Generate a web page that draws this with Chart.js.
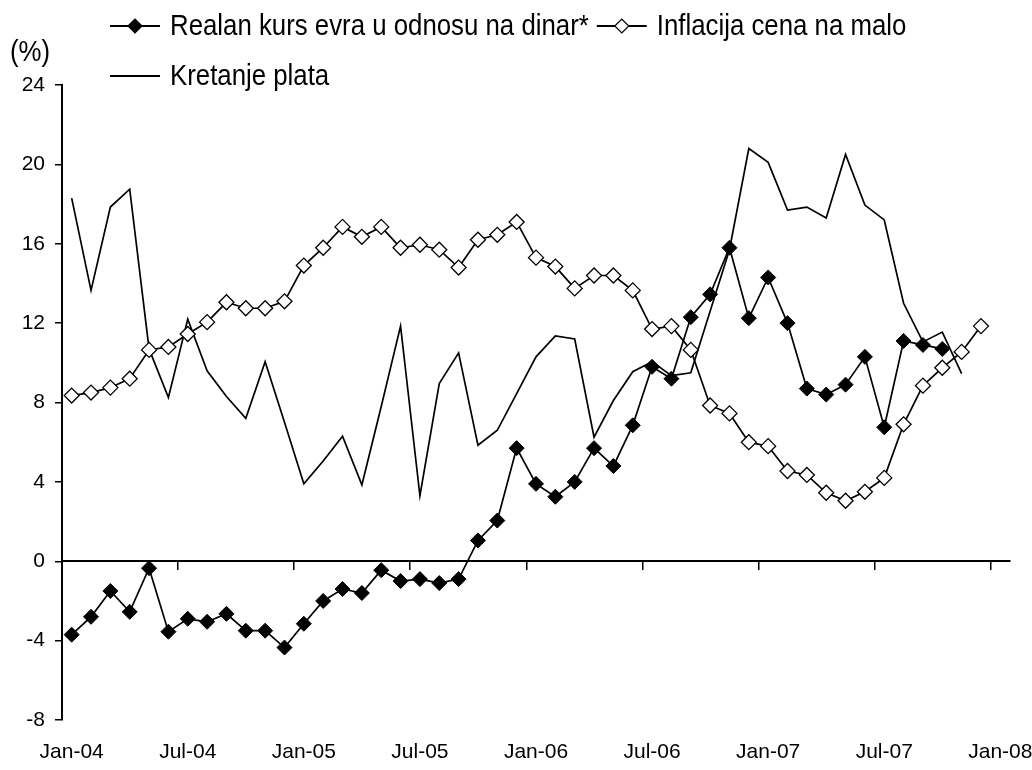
<!DOCTYPE html>
<html>
<head>
<meta charset="utf-8">
<script src="https://cdn.jsdelivr.net/npm/chart.js@4"></script>
<style>
  html, body { margin: 0; padding: 0; background: #fff; }
  #wrap { width: 1032px; height: 770px; position: relative; }
</style>
</head>
<body>
<div id="wrap"><canvas id="kursChart"></canvas></div>
<script>
// mesecne opservacije, Jan-04 do Jan-08
const months = [
  'Jan-04','Feb-04','Mar-04','Apr-04','May-04','Jun-04','Jul-04','Aug-04','Sep-04','Oct-04','Nov-04','Dec-04',
  'Jan-05','Feb-05','Mar-05','Apr-05','May-05','Jun-05','Jul-05','Aug-05','Sep-05','Oct-05','Nov-05','Dec-05',
  'Jan-06','Feb-06','Mar-06','Apr-06','May-06','Jun-06','Jul-06','Aug-06','Sep-06','Oct-06','Nov-06','Dec-06',
  'Jan-07','Feb-07','Mar-07','Apr-07','May-07','Jun-07','Jul-07','Aug-07','Sep-07','Oct-07','Nov-07','Dec-07',
  'Jan-08'
];

const realanKurs = [
  -3.7, -2.8, -1.5, -2.55, -0.35, -3.55, -2.9, -3.05, -2.65, -3.5, -3.5, -4.35,
  -3.15, -2.0, -1.4, -1.6, -0.45, -1.0, -0.9, -1.1, -0.9, 1.05, 2.05, 5.7,
  3.9, 3.25, 4.0, 5.7, 4.8, 6.85, 9.8, 9.2, 12.3, 13.45, 15.8, 12.25,
  14.3, 12.0, 8.7, 8.4, 8.9, 10.3, 6.75, 11.1, 10.9, 10.7, null, null,
  null
];

const inflacija = [
  8.35, 8.5, 8.75, 9.2, 10.65, 10.8, 11.45, 12.05, 13.05, 12.75, 12.75, 13.1,
  14.9, 15.8, 16.85, 16.35, 16.85, 15.8, 15.95, 15.7, 14.8, 16.2, 16.45, 17.1,
  15.3, 14.85, 13.75, 14.4, 14.4, 13.65, 11.7, 11.85, 10.65, 7.85, 7.45, 6.0,
  5.8, 4.55, 4.35, 3.45, 3.05, 3.5, 4.2, 6.9, 8.85, 9.75, 10.55, 11.85,
  null
];

const plate = [
  18.3, 13.65, 17.85, 18.75, 10.7, 8.25, 12.2, 9.6, 8.3, 7.2, 10.05, 7.0,
  3.9, 5.05, 6.3, 3.85, 7.8, 11.85, 3.3, 8.95, 10.5, 5.85, 6.6, 8.45,
  10.3, 11.35, 11.2, 6.25, 8.1, 9.55, 10.05, 9.35, 9.5, 12.6, 15.7, 20.8,
  20.1, 17.7, 17.85, 17.3, 20.5, 17.95, 17.2, 13.0, 11.05, 11.55, 9.45, null,
  null
];

const seriesNames = ['Realan kurs evra u odnosu na dinar*', 'Inflacija cena na malo', 'Kretanje plata'];
const yMin = -8, yMax = 24, yStep = 4;

const FONT = "'Liberation Sans', Arial, sans-serif";

// legenda i oznaka (%) crtaju se rucno, jer Chart.js ne prelama stavke ovako
// tekst je malo suzen po horizontali kao u originalu
const SQUEEZE = 0.86;

const topLegend = {
  id: 'topLegend',
  afterDraw(chart) {
    const ctx = chart.ctx;
    const ds = chart.data.datasets;
    ctx.save();
    ctx.fillStyle = '#000';
    ctx.strokeStyle = '#000';
    ctx.textBaseline = 'middle';
    ctx.font = '30px ' + FONT;

    const squeezedText = (txt, x, y) => {
      ctx.save();
      ctx.translate(x, y);
      ctx.scale(SQUEEZE, 1);
      ctx.fillText(txt, 0, 0);
      ctx.restore();
      return ctx.measureText(txt).width * SQUEEZE;
    };

    squeezedText('(%)', 10, 53);

    const drawItem = (d, x, y) => {
      ctx.lineWidth = 2;
      ctx.beginPath();
      ctx.moveTo(x, y);
      ctx.lineTo(x + 50, y);
      ctx.stroke();
      if (d.pointRadius > 0) {
        const cx = x + 25, r = 7;
        ctx.beginPath();
        ctx.moveTo(cx - r, y);
        ctx.lineTo(cx, y - r);
        ctx.lineTo(cx + r, y);
        ctx.lineTo(cx, y + r);
        ctx.closePath();
        ctx.fillStyle = d.pointBackgroundColor;
        ctx.fill();
        ctx.lineWidth = 1.2;
        ctx.stroke();
        ctx.fillStyle = '#000';
      }
      const w = squeezedText(d.label, x + 60, y + 1);
      return x + 60 + w;
    };

    const end1 = drawItem(ds[0], 110, 26);
    drawItem(ds[1], end1 + 8, 26);
    drawItem(ds[2], 110, 76);
    ctx.restore();
  }
};

// bez dodatnog razmaka za poslednju oznaku (Jan-08 sme da izadje desno)
const fixXAxis = (s) => {
  s.height = 50;
  s.paddingLeft = 0;
  s.paddingRight = 0;
};

const ctx = document.getElementById('kursChart').getContext('2d');
new Chart(ctx, {
  type: 'line',
  data: {
    labels: months,
    datasets: [
      {
        label: seriesNames[0],
        data: realanKurs,
        borderColor: '#000',
        borderWidth: 1.7,
        pointStyle: 'rectRot',
        pointRadius: 7.5,
        pointBackgroundColor: '#000',
        pointBorderColor: '#000',
        pointBorderWidth: 1,
        tension: 0
      },
      {
        label: seriesNames[1],
        data: inflacija,
        borderColor: '#000',
        borderWidth: 1.7,
        pointStyle: 'rectRot',
        pointRadius: 7.5,
        pointBackgroundColor: '#fff',
        pointBorderColor: '#000',
        pointBorderWidth: 1.3,
        tension: 0
      },
      {
        label: seriesNames[2],
        data: plate,
        borderColor: '#000',
        borderWidth: 1.7,
        pointRadius: 0,
        pointBackgroundColor: '#000',
        tension: 0
      }
    ]
  },
  options: {
    responsive: true,
    maintainAspectRatio: false,
    animation: false,
    layout: { padding: { top: 85, right: 22, bottom: 0, left: 0 } },
    plugins: {
      legend: { display: false },
      tooltip: { enabled: false }
    },
    scales: {
      x: {
        type: 'category',
        offset: true,
        afterFit: fixXAxis,
        grid: { display: false, drawTicks: false },
        border: { display: false },
        ticks: {
          autoSkip: false,
          maxRotation: 0,
          padding: 20,
          color: '#000',
          font: { family: FONT, size: 21 },
          callback: (val, i) => (i % 6 === 0 ? months[i] : '')
        }
      },
      // os na nuli sa podeocima svakih 6 meseci
      x2: {
        type: 'category',
        axis: 'x',
        labels: months,
        position: { y: 0 },
        offset: true,
        afterFit: fixXAxis,
        grid: {
          offset: true,
          drawOnChartArea: false,
          drawTicks: true,
          tickLength: 8,
          lineWidth: 1.5,
          color: (c) => (c.index > 0 && c.index % 6 === 0 ? '#000' : 'rgba(0,0,0,0)')
        },
        border: { display: true, color: '#000', width: 2 },
        ticks: { display: false, autoSkip: false }
      },
      y: {
        min: yMin,
        max: yMax,
        afterFit: (s) => { s.width = 62; },
        grid: {
          drawOnChartArea: false,
          drawTicks: true,
          tickLength: 7,
          lineWidth: 1.5,
          color: '#000'
        },
        border: { display: true, color: '#000', width: 2 },
        ticks: {
          stepSize: yStep,
          padding: 10,
          color: '#000',
          font: { family: FONT, size: 21 }
        }
      }
    }
  },
  plugins: [topLegend]
});
</script>
</body>
</html>
